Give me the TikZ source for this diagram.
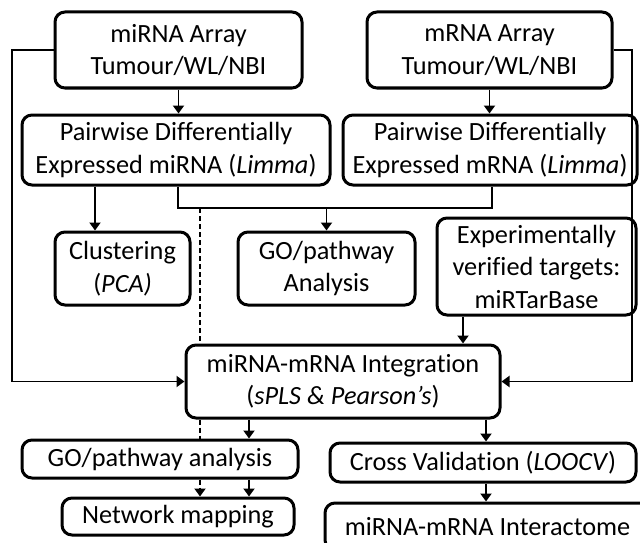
\documentclass[tikz,border=0pt]{standalone}
\usepackage{fontspec}
\setmainfont{Carlito}[Ligatures=NoCommon]
\usetikzlibrary{arrows.meta}
\begin{document}
\begin{tikzpicture}[x=1pt,y=-1pt,
  box/.style={draw,line width=3pt,rounded corners=10pt,align=center,inner sep=0pt,
    font=\fontsize{26.3}{32.5}\selectfont},
  conn/.style={line width=1.9pt},
  arr/.style={conn,-{Triangle[length=8pt,width=11pt]}},
  dconn/.style={conn,dash pattern=on 5pt off 3pt}]
\clip (0,0) rectangle (640,543);
\fill[white] (0,0) rectangle (640,543);
\node[box,minimum width=247pt,minimum height=76pt] (a1) at (178.5,50) {miRNA Array\\Tumour/WL/NBI};
\node[box,minimum width=245pt,minimum height=76pt] (b1) at (489.5,50) {mRNA Array\\Tumour/WL/NBI};
\node[box,minimum width=308pt,minimum height=70pt] (a2) at (176,150) {Pairwise Differentially\\Expressed miRNA (\textit{Limma})};
\node[box,minimum width=294pt,minimum height=70pt] (b2) at (490,150) {Pairwise Differentially\\Expressed mRNA (\textit{Limma})};
\node[box,minimum width=135pt,minimum height=73pt] (clust) at (122.5,268.5) {Clustering\\(\textit{PCA)}};
\node[box,minimum width=177pt,minimum height=73pt] (go1) at (326.5,268.5) {GO/pathway\\Analysis};
\node[box,minimum width=199pt,minimum height=97pt] (exp) at (536.5,266.5) {Experimentally\\verified targets:\\miRTarBase};
\node[box,minimum width=314pt,minimum height=73pt] (integ) at (343,381.5) {miRNA-mRNA Integration\\(\textit{sPLS \& Pearson’s})};
\node[box,minimum width=276pt,minimum height=38pt] (go2) at (160,459) {GO/pathway analysis};
\node[box,minimum width=232pt,minimum height=37pt] (net) at (178,516.5) {Network mapping};
\node[box,minimum width=306pt,minimum height=39pt] (cv) at (483,462.5) {Cross Validation (\textit{LOOCV})};
\node[box,minimum width=325pt,minimum height=47pt] (inter) at (487.5,526.5) {miRNA-mRNA Interactome};
\coordinate (L) at (12,0);
\coordinate (R) at (632,0);
\coordinate (J) at (0,208);
\coordinate (xa) at (95,0);
\coordinate (xj) at (178,0);
\coordinate (xb) at (492,0);
\coordinate (xg) at (326.5,0);
\coordinate (xd) at (200,0);
\coordinate (xe) at (463,0);
\coordinate (xs) at (249,0);
\coordinate (xc) at (486,0);
% side loops
\draw[arr] (a1.west) -- (a1.west -| L) -- (integ.west -| L) -- (integ.west);
\draw[arr] (b1.east) -- (b1.east -| R) -- (integ.east -| R) -- (integ.east);
% top arrows
\draw[arr] (a1.south) -- (a1.south |- a2.north);
\draw[arr] (b1.south) -- (b1.south |- b2.north);
\draw[arr] (a2.south -| xa) -- (clust.north -| xa);
\draw[conn] (a2.south -| xj) -- (J -| xj) -- (J -| xb) -- (b2.south -| xb);
\draw[arr] (J -| xg) -- (go1.north);
\draw[dconn] (J -| xd) -- (integ.north -| xd);
\draw[arr] (exp.south -| xe) -- (integ.north -| xe);
% bottom
\draw[dconn] (integ.south -| xd) -- (go2.north -| xd);
\draw[arr] (integ.south -| xs) -- (go2.north -| xs);
\draw[arr] (integ.south -| xc) -- (cv.north -| xc);
\draw[dconn,-{Triangle[length=8pt,width=11pt]}] (go2.south -| xd) -- (net.north -| xd);
\draw[arr] (go2.south -| xs) -- (net.north -| xs);
\draw[arr] (cv.south -| xc) -- (inter.north -| xc);
\end{tikzpicture}
\end{document}
